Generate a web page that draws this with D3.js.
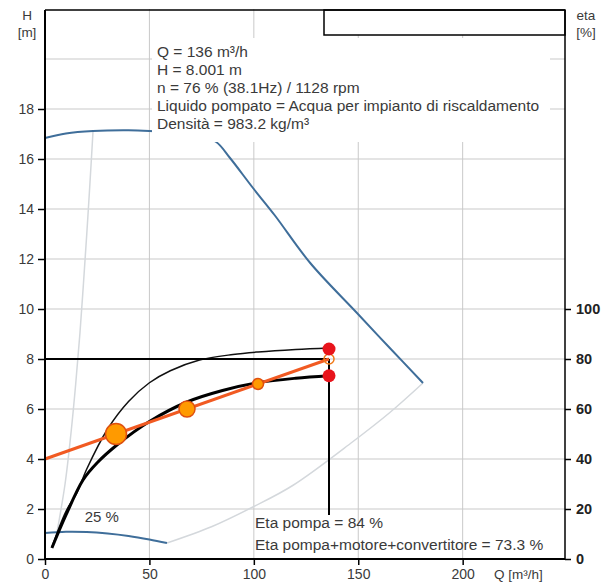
<!DOCTYPE html>
<html>
<head>
<meta charset="utf-8">
<script src="https://cdn.jsdelivr.net/npm/d3@7"></script>
<style>
  body { margin: 0; background: #fff; }
  text { font-family: "Liberation Sans", Arial, sans-serif; fill: #3a3a3a; }
  .grid line { stroke: #c9c9c9; stroke-width: 1; }
  .axis path { display: none; }
  .axis line { stroke: #000; stroke-width: 1.5; }
</style>
</head>
<body>
<script>
// tick labels
const qTicks = [0, 50, 100, 150, 200];
const hTicks = [0, 2, 4, 6, 8, 10, 12, 14, 16, 18];
const hGrid = [2, 4, 6, 8, 10, 12, 14, 16, 18, 20];
const etaTicks = [0, 20, 40, 60, 80, 100];

// curva H-Q a velocità massima [Q, H]
const curveMax = [[0, 16.84], [10, 17.02], [23, 17.12], [40, 17.15], [50, 17.12], [65, 17.03], [75, 16.9],
  [82, 16.68], [88.6, 16.04], [99.6, 14.84], [110, 13.75], [127, 11.84], [149.4, 9.84], [165, 8.45], [181, 7.04]];
// curva H-Q a velocità minima (25 %)
const curveMin = [[0, 1.04], [10, 1.09], [20, 1.08], [30, 1.02], [40, 0.92], [50, 0.78], [58.4, 0.64]];
// limiti del campo di lavoro
const limitRight = [[58.4, 0.64], [80, 1.3], [100, 2.1], [118.8, 2.95], [147.5, 4.7], [165, 5.85], [181, 7.04]];
const limitLeft = [[5.7, 1.05], [9.6, 3], [12.4, 5], [14.7, 7], [16.7, 9], [18.4, 11], [20, 13], [21.5, 15], [23, 17.12]];
// rendimento pompa [Q, eta %]
const etaPump = [[3.3, 4.8], [10, 19], [15.3, 26.5], [20, 36], [30, 52], [40, 63], [50, 70.5], [60, 75.3],
  [74, 79.6], [90, 81.8], [102, 82.8], [120, 83.8], [136, 84.4]];
// rendimento pompa+motore+convertitore [Q, eta %]
const etaTotal = [[3.3, 4.4], [10, 17.5], [18.2, 31.6], [25, 38.5], [35, 46], [50, 55], [68, 62.8],
  [85, 67.4], [102, 70.5], [120, 72.3], [136, 73.3]];
// curva di regolazione e punti
const ctrlLine = [[0, 4], [136, 8]];
const ctrlPoints = [[34, 5], [68, 6], [102, 7]];
const opPoint = { q: 136, h: 8.001, etaPump: 84, etaTotal: 73.3 };

const infoLines = [
  "Q = 136 m³/h",
  "H = 8.001 m",
  "n = 76 % (38.1Hz) / 1128 rpm",
  "Liquido pompato = Acqua per impianto di riscaldamento",
  "Densità = 983.2 kg/m³"
];

const W = 610, H = 583;
const svg = d3.select("body").append("svg").attr("width", W).attr("height", H);

const x = d3.scaleLinear().domain([0, 249]).range([45, 565]);
const yH = d3.scaleLinear().domain([0, 22]).range([559, 9]);
const yE = d3.scaleLinear().domain([0, 220]).range([559, 9]);

// griglia
svg.append("g").attr("class", "grid").selectAll("line").data(hGrid).enter().append("line")
  .attr("x1", x(0)).attr("x2", x.range()[1]).attr("y1", d => yH(d)).attr("y2", d => yH(d));
svg.append("g").attr("class", "grid").selectAll("line").data(qTicks.slice(1)).enter().append("line")
  .attr("x1", d => x(d)).attr("x2", d => x(d)).attr("y1", yH(22)).attr("y2", yH(0));

const lineQH = d3.line().x(d => x(d[0])).y(d => yH(d[1])).curve(d3.curveCatmullRom);
const lineQE = d3.line().x(d => x(d[0])).y(d => yE(d[1])).curve(d3.curveCatmullRom);

// limiti (grigio chiaro)
[limitRight, limitLeft].forEach(c => svg.append("path").attr("d", lineQH(c))
  .attr("fill", "none").attr("stroke", "#d4d8dc").attr("stroke-width", 1.5));

// curve di velocità
[curveMax, curveMin].forEach(c => svg.append("path").attr("d", lineQH(c))
  .attr("fill", "none").attr("stroke", "#3f6e9a").attr("stroke-width", 2));

// riquadro testo
svg.append("rect").attr("x", 152).attr("y", 38).attr("width", 398).attr("height", 104).attr("fill", "#fff");
svg.append("g").selectAll("text").data(infoLines).enter().append("text")
  .attr("x", 157).attr("y", (d, i) => 57 + i * 18)
  .attr("font-size", 15.5).text(d => d);

// legenda vuota in alto
svg.append("rect").attr("x", 324).attr("y", 10).attr("width", 241).attr("height", 25)
  .attr("fill", "#fff").attr("stroke", "#000").attr("stroke-width", 1.5);

// rendimenti
svg.append("path").attr("d", lineQE(etaPump)).attr("fill", "none").attr("stroke", "#111").attr("stroke-width", 1.5);
svg.append("path").attr("d", lineQE(etaTotal)).attr("fill", "none").attr("stroke", "#000").attr("stroke-width", 3);

// linee del punto di lavoro
svg.append("line").attr("x1", x(0)).attr("x2", x(opPoint.q)).attr("y1", yH(8)).attr("y2", yH(8))
  .attr("stroke", "#000").attr("stroke-width", 2);
svg.append("line").attr("x1", x(opPoint.q)).attr("x2", x(opPoint.q)).attr("y1", yH(8)).attr("y2", yH(1.76))
  .attr("stroke", "#000").attr("stroke-width", 2);

// curva di regolazione
svg.append("path").attr("d", d3.line().x(d => x(d[0])).y(d => yH(d[1]))(ctrlLine))
  .attr("fill", "none").attr("stroke", "#f15a22").attr("stroke-width", 3);
const radii = [10.5, 8, 5.5];
svg.append("g").selectAll("circle").data(ctrlPoints).enter().append("circle")
  .attr("cx", d => x(d[0])).attr("cy", d => yH(d[1])).attr("r", (d, i) => radii[i])
  .attr("fill", "#ff9a00").attr("stroke", "#e0500f").attr("stroke-width", 1.5);
svg.append("circle").attr("cx", x(opPoint.q)).attr("cy", yH(opPoint.h)).attr("r", 5)
  .attr("fill", "none").attr("stroke", "#f07a1a").attr("stroke-width", 1.5);

// punti rendimento
[opPoint.etaPump, opPoint.etaTotal].forEach(e => svg.append("circle")
  .attr("cx", x(opPoint.q)).attr("cy", yE(e)).attr("r", 6.5).attr("fill", "#e8141c"));

// cornice
svg.append("line").attr("x1", x(0)).attr("x2", 565).attr("y1", 10).attr("y2", 10).attr("stroke", "#000").attr("stroke-width", 1.5);
svg.append("line").attr("x1", 565).attr("x2", 565).attr("y1", 10).attr("y2", yH(0)).attr("stroke", "#000").attr("stroke-width", 1.5);
svg.append("line").attr("x1", x(0)).attr("x2", x(0)).attr("y1", 10).attr("y2", yH(0)).attr("stroke", "#000").attr("stroke-width", 2);
svg.append("line").attr("x1", x(0)).attr("x2", 565).attr("y1", yH(0)).attr("y2", yH(0)).attr("stroke", "#000").attr("stroke-width", 2);

// assi
svg.append("g").attr("class", "axis").attr("transform", "translate(" + x(0) + ",0)")
  .call(d3.axisLeft(yH).tickValues(hTicks).tickSize(7).tickPadding(4))
  .selectAll("text").attr("font-size", 14).style("fill", "#3a3a3a");
svg.append("g").attr("class", "axis").attr("transform", "translate(0," + yH(0) + ")")
  .call(d3.axisBottom(x).tickValues(qTicks).tickSize(6).tickPadding(4))
  .selectAll("text").attr("font-size", 14).style("fill", "#3a3a3a");
svg.append("g").attr("class", "axis").attr("transform", "translate(565,0)")
  .call(d3.axisRight(yE).tickValues(etaTicks).tickSize(6).tickPadding(5))
  .selectAll("text").attr("font-size", 14.5).attr("font-weight", "bold").style("fill", "#222");
svg.selectAll(".axis text").attr("font-family", "Liberation Sans, Arial, sans-serif");

// etichette assi
svg.append("text").attr("x", 27).attr("y", 20).attr("text-anchor", "middle").attr("font-size", 13.5).text("H");
svg.append("text").attr("x", 27).attr("y", 37).attr("text-anchor", "middle").attr("font-size", 13.5).text("[m]");
svg.append("text").attr("x", 586).attr("y", 20).attr("text-anchor", "middle").attr("font-size", 13.5).text("eta");
svg.append("text").attr("x", 586).attr("y", 37).attr("text-anchor", "middle").attr("font-size", 13.5).text("[%]");
svg.append("text").attr("x", 494).attr("y", 579).attr("font-size", 13.5).text("Q [m³/h]");

// testi
svg.append("text").attr("x", x(19)).attr("y", yH(1.48)).attr("font-size", 15).text("25 %");
svg.append("text").attr("x", 255).attr("y", 528).attr("font-size", 15.5).text("Eta pompa = 84 %");
svg.append("text").attr("x", 255).attr("y", 550).attr("font-size", 15.5).text("Eta pompa+motore+convertitore = 73.3 %");
</script>
</body>
</html>
